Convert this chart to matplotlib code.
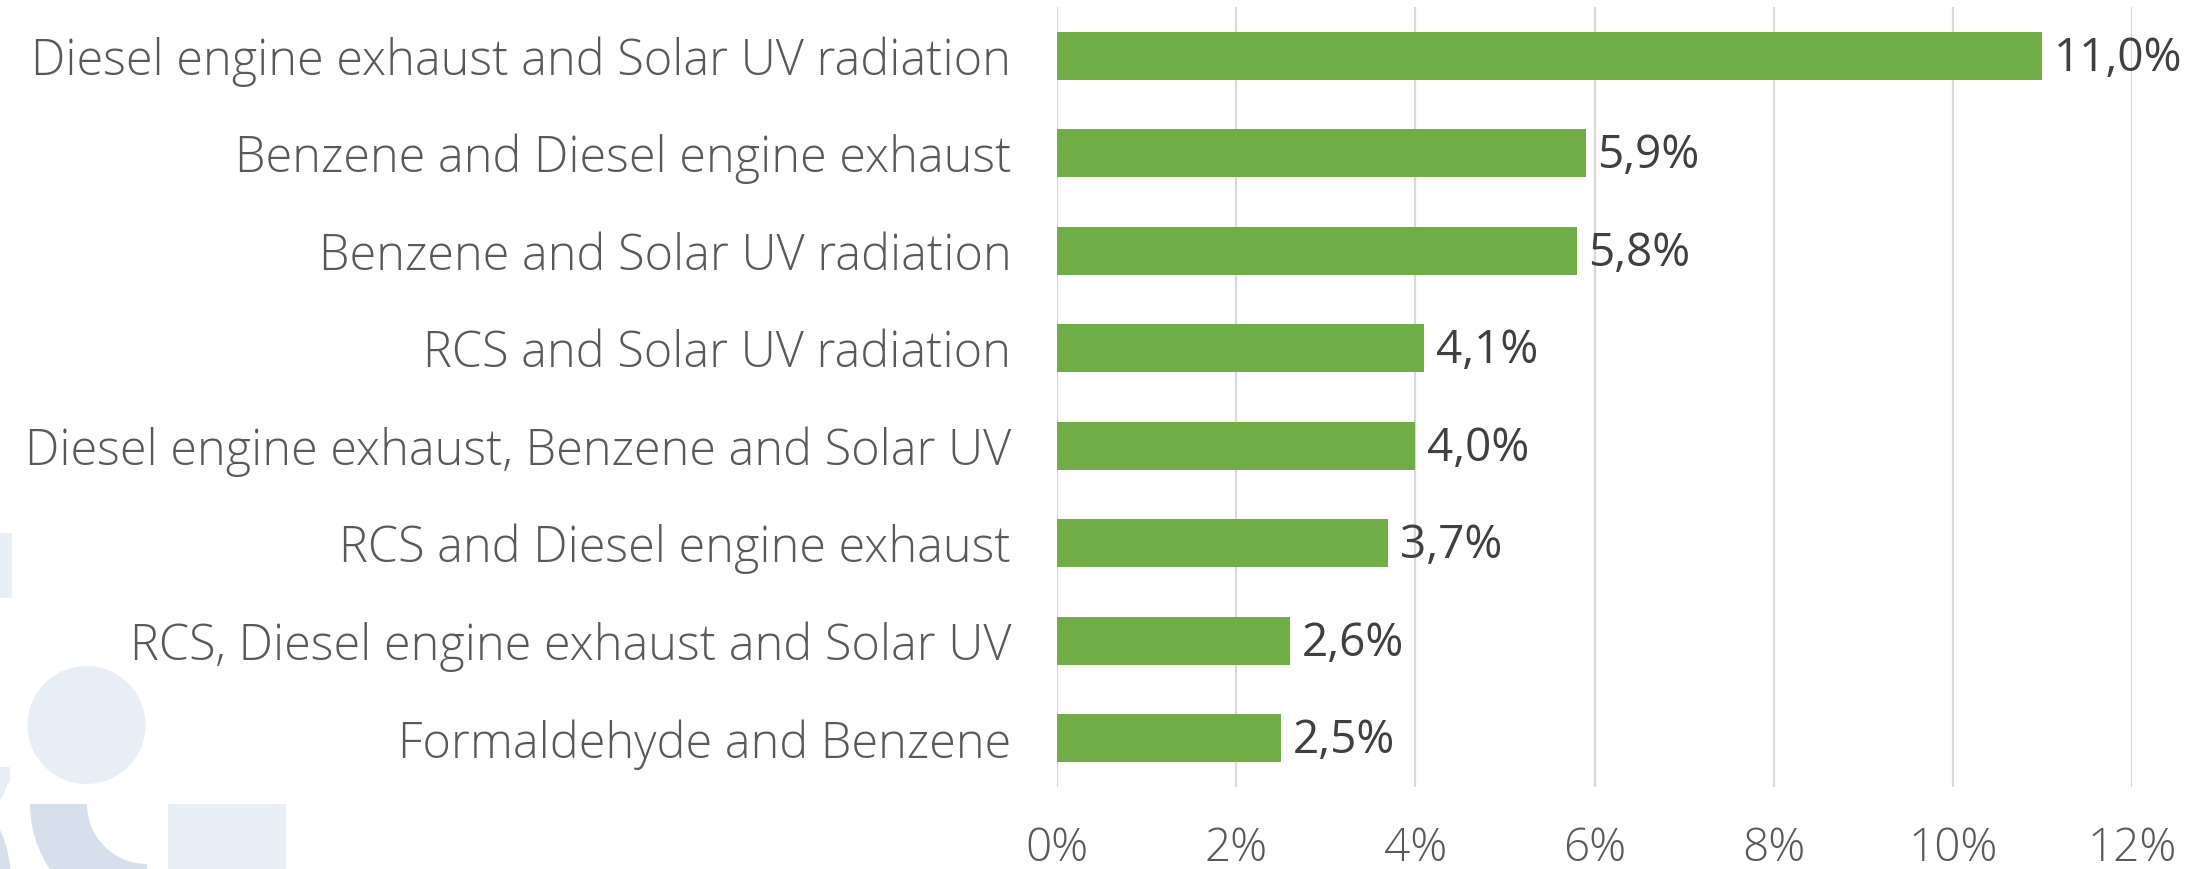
import matplotlib.pyplot as plt
from matplotlib.patches import Circle, Rectangle, Wedge
import numpy as np

# data
categories = [
    "Diesel engine exhaust and Solar UV radiation",
    "Benzene and Diesel engine exhaust",
    "Benzene and Solar UV radiation",
    "RCS and Solar UV radiation",
    "Diesel engine exhaust, Benzene and Solar UV",
    "RCS and Diesel engine exhaust",
    "RCS, Diesel engine exhaust and Solar UV",
    "Formaldehyde and Benzene",
]
values = [11.0, 5.9, 5.8, 4.1, 4.0, 3.7, 2.6, 2.5]
xticks = [0, 2, 4, 6, 8, 10, 12]

plt.rcParams['font.family'] = ['Open Sans', 'DejaVu Sans']

W, H = 2189, 869
fig = plt.figure(figsize=(W / 100, H / 100), dpi=100)

# decorative background shapes (pixel coordinates)
bg = fig.add_axes([0, 0, 1, 1], zorder=0)
bg.set_xlim(0, W)
bg.set_ylim(H, 0)
bg.axis('off')
light = '#e8eef6'
dark = '#d5e0ec'
bg.add_patch(Rectangle((-60, 533), 72, 65, color=light, lw=0))
bg.add_patch(Wedge((-30, 598), 42, 270, 360, color=light, lw=0))
bg.add_patch(Wedge((-50, 767), 60, 0, 180, color=light, lw=0))
bg.add_patch(Rectangle((-110, 767), 120, 16, color=light, lw=0))
bg.add_patch(Circle((86.5, 725), 59, color=light, lw=0))
bg.add_patch(Rectangle((168, 804), 118, 80, color=light, lw=0))
bg.add_patch(Wedge((147, 804), 117, 90, 180, width=57, color=dark, lw=0))
bg.add_patch(Circle((-110, 880), 121, color=dark, lw=0))

ax = fig.add_axes([1057 / W, 1 - 787 / H, (2132 - 1057) / W, 780 / H], zorder=1)
ax.patch.set_alpha(0)

y = np.arange(len(categories))
ax.barh(y, values, height=0.49, color='#70ad47', zorder=2)

for yi, v in zip(y, values):
    ax.text(v + 0.13, yi + 0.03, f"{v:.1f}".replace('.', ',') + '%', va='center',
            ha='left', fontsize=33, color='#404040', zorder=3)

ax.set_xlim(0, 12)
ax.set_ylim(len(categories) - 0.5, -0.5)
ax.set_xticks(xticks)
ax.set_xticklabels([f"{t}%" for t in xticks])
ax.set_yticks(y)
ax.set_yticklabels(categories)
ax.grid(axis='x', color='#d9d9d9', lw=1.6, zorder=1)
ax.set_axisbelow(True)
for s in ax.spines.values():
    s.set_visible(False)
ax.tick_params(axis='y', length=0, pad=33, labelsize=35, labelcolor='#595959')
ax.tick_params(axis='x', length=0, pad=28, labelsize=33, labelcolor='#595959')
for lab in ax.get_yticklabels() + ax.get_xticklabels():
    lab.set_fontweight('light')

fig.savefig('out.png', dpi=100)
